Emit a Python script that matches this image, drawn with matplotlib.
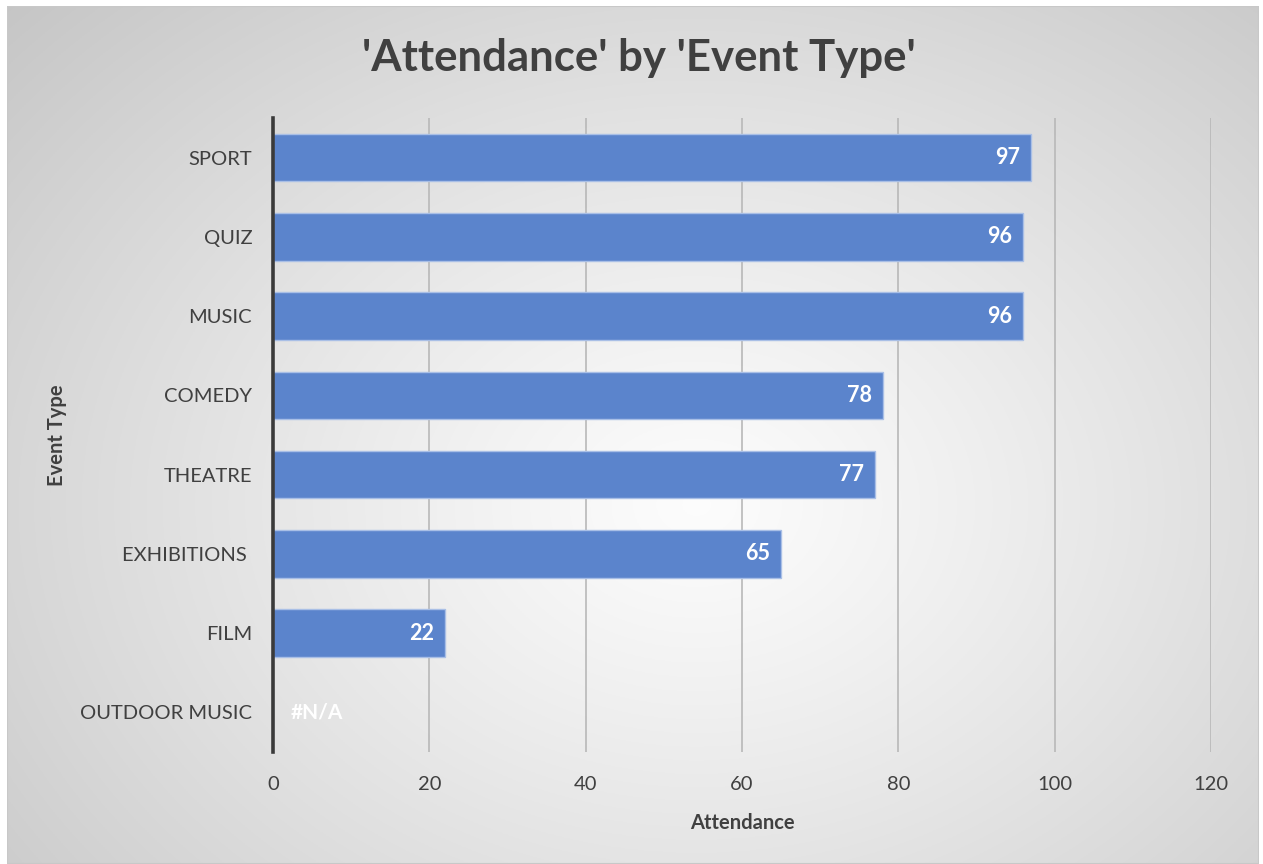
import numpy as np
import matplotlib
matplotlib.use("Agg")
import matplotlib.pyplot as plt

categories = ["SPORT", "QUIZ", "MUSIC", "COMEDY", "THEATRE", "EXHIBITIONS ", "FILM", "OUTDOOR MUSIC"]
values = [97, 96, 96, 78, 77, 65, 22, np.nan]
xticks = [0, 20, 40, 60, 80, 100, 120]
title = "'Attendance' by 'Event Type'"
xlabel = "Attendance"
ylabel = "Event Type"

plt.rcParams['font.family'] = ['Lato', 'DejaVu Sans']
W, H = 1263, 864
fig = plt.figure(figsize=(W/100, H/100), dpi=100)

# background gradient panel
bg = fig.add_axes([7/W, 0, (1259-7)/W, 1-6/H])
bg.set_axis_off()
ny, nx = 400, 600
yy, xx = np.mgrid[0:ny, 0:nx]
cx, cy = 0.55*nx, 0.58*ny
r = np.sqrt(((xx-cx)/(0.8*nx))**2 + ((yy-cy)/(0.9*ny))**2)
r = np.clip(r, 0, 1)
val = 0.99 - (0.99-0.76)*r**1.15
img = np.dstack([val, val, val])
bg.imshow(img, aspect='auto', extent=[0, 1, 0, 1], origin='upper')
bg.set_xlim(0, 1); bg.set_ylim(0, 1)
bg.add_patch(plt.Rectangle((0, 0), 1, 1, fill=False, edgecolor='#c8c8c8', lw=1.5, transform=bg.transAxes))

ax = fig.add_axes([273/W, 1-752/H, (1211-273)/W, (752-118)/H])
ax.patch.set_alpha(0)
y = np.arange(len(categories))
plot_vals = np.nan_to_num(values, nan=0.0)
ax.barh(y, plot_vals, height=0.6, color='#5b84cc', edgecolor='#a9bfe6', linewidth=1.0, zorder=3)
ax.set_ylim(len(categories)-0.5, -0.5)
ax.set_xlim(0, 120)
ax.set_xticks(xticks)
ax.set_xticklabels([str(t) for t in xticks])
ax.set_yticks(y)
ax.set_yticklabels(categories)
ax.tick_params(axis='both', length=0, labelsize=14.5, colors='#404040')
ax.tick_params(axis='x', pad=17)
ax.tick_params(axis='y', pad=15)
ax.grid(axis='x', color='#b8b8b8', lw=1.2, zorder=0)
for s in ['top', 'right', 'bottom']:
    ax.spines[s].set_visible(False)
ax.spines['left'].set_color('#3a3a3a')
ax.spines['left'].set_linewidth(2.6)
ax.spines['left'].set_zorder(5)

for yi, v in zip(y, values):
    if np.isnan(v):
        ax.text(2.2, yi, "#N/A", color='white', fontsize=15, fontweight='bold', va='center', ha='left', zorder=4)
    else:
        ax.text(v - 1.4, yi, f"{int(v)}", color='white', fontsize=15.5, fontweight='bold', va='center', ha='right', zorder=4)

ax.set_xlabel(xlabel, fontsize=14.5, fontweight='bold', color='#404040', labelpad=15)
ax.set_ylabel(ylabel, fontsize=14.5, fontweight='bold', color='#404040')
ax.yaxis.set_label_coords(-(273-67)/938, 0.5)
fig.text(0.506, 1-58/H, title, ha='center', va='center', fontsize=31.5, fontweight='bold', color='#404040')

fig.savefig("out.png", dpi=100)
